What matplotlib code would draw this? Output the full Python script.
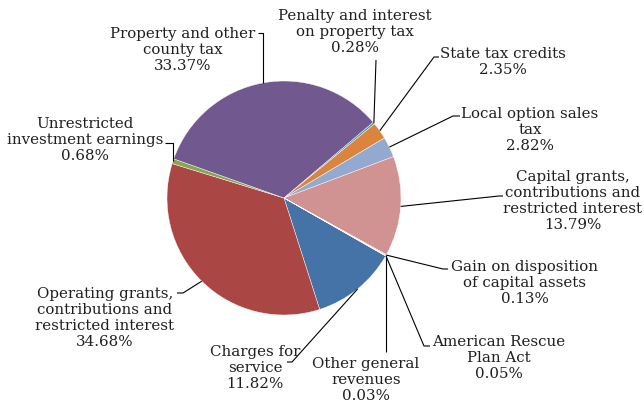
import matplotlib
matplotlib.use("Agg")
import matplotlib.pyplot as plt
import numpy as np

# data (Excel order, clockwise)
categories = ["Charges for\nservice",
              "Operating grants,\ncontributions and\nrestricted interest",
              "Unrestricted\ninvestment earnings",
              "Property and other\ncounty tax",
              "Penalty and interest\non property tax",
              "State tax credits",
              "Local option sales\ntax",
              "Capital grants,\ncontributions and\nrestricted interest",
              "Gain on disposition\nof capital assets",
              "American Rescue\nPlan Act",
              "Other general\nrevenues"]
shares = [11.82, 34.68, 0.68, 33.37, 0.28, 2.35, 2.82, 13.79, 0.13, 0.05, 0.03]
colors = ["#4572A7", "#AA4643", "#89A54E", "#71588F", "#4198AF", "#DB843D",
          "#93A9CF", "#D19392", "#B9CD96", "#A99BBD", "#F9B074"]

# layout in pixels (x, y from top-left of a 644x409 canvas)
W, H = 644, 409
cx, cy, R = 284, 198, 117
# text block centre, elbow point, end of leader
text_pos = [(255, 368), (105, 318), (85, 140), (183, 50), (355, 32), (503, 62),
            (530, 130), (573, 201), (525, 283), (499, 358), (366, 380)]
elbows = [(292, 362), (183, 293), (None, 143), (None, 33), (376, 60), (434, 57),
          (453, 116), (499, 196), (443, 269), (424, 346), (None, 352)]
ends = [(287, 362), (177, 293), (165, 143), (258, 33), None, (439, 57),
        (460, 116), (503, 196), (448, 269), (430, 346), None]

fig = plt.figure(figsize=(6.44, 4.09), dpi=100)
ax = fig.add_axes([0, 0, 1, 1])

wedges, _ = ax.pie(shares, colors=colors, startangle=-29.7, counterclock=False,
                   center=(cx, H - cy), radius=R,
                   wedgeprops=dict(edgecolor="white", linewidth=0.3))
ax.set_xlim(0, W)
ax.set_ylim(0, H)
ax.set_aspect("equal")
ax.axis("off")

for w, cat, val, tp, el, en in zip(wedges, categories, shares, text_pos, elbows, ends):
    mid = np.deg2rad((w.theta1 + w.theta2) / 2)
    sx = cx + R * np.cos(mid)
    sy = H - cy + R * np.sin(mid)
    ex = sx if el[0] is None else el[0]
    xs = [sx, ex]
    ys = [sy, H - el[1]]
    if en is not None:
        xs.append(en[0])
        ys.append(H - en[1])
    ax.plot(xs, ys, color="black", lw=0.8, solid_capstyle="butt")
    ax.text(tp[0], H - tp[1], "%s\n%.2f%%" % (cat, val), ha="center", va="center",
            multialignment="center", fontsize=10.8, family="DejaVu Serif",
            color="#1f1f1f", linespacing=1.2)

fig.savefig("out.png", dpi=100)
